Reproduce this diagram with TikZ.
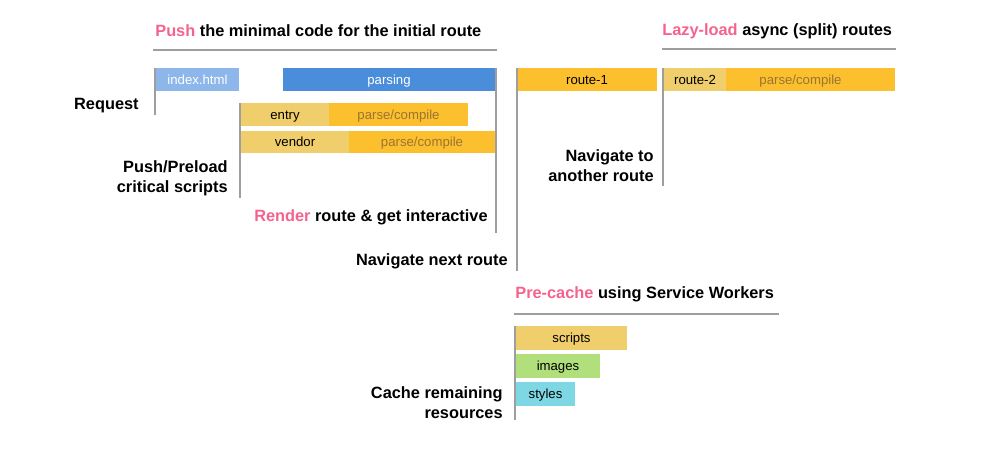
\documentclass[tikz,border=0pt]{standalone}
\usepackage{fontspec}
\setmainfont{Liberation Sans}
\usetikzlibrary{calc}
\definecolor{AccentPink}{HTML}{F4638E}
\definecolor{IndexBlue}{HTML}{8DB6EA}
\definecolor{ParseBlue}{HTML}{4A8DDA}
\definecolor{FetchGold}{HTML}{F0CE6B}
\definecolor{CompileGold}{HTML}{FCC02E}
\definecolor{CompileText}{HTML}{9A7432}
\definecolor{ImageGreen}{HTML}{B0DF7C}
\definecolor{StyleCyan}{HTML}{7DD8E4}
\colorlet{MarkerGray}{black!38}

\tikzset{
  heading/.style={anchor=west, inner sep=0pt, font=\fontsize{9.3}{11.4}\selectfont\bfseries},
  steplabel/.style={anchor=east, align=right, inner sep=0pt, font=\fontsize{9.3}{11.4}\selectfont\bfseries},
  barlabel/.style={anchor=base, inner sep=0pt, font=\fontsize{7.5}{9}\selectfont},
  marker/.style={draw=MarkerGray, line width=1.4pt},
  rule/.style={draw=MarkerGray, line width=1.1pt},
}

\begin{document}
\begin{tikzpicture}[x=0.02cm, y=-0.02cm]

    \useasboundingbox (0,0) rectangle (1000,451);

    \def\barshift{4.7}

    % Push

    \node[heading] (pushHead) at (155,31) {\textcolor{AccentPink}{Push} the minimal code for the initial route};
    \draw[rule] (153,50) -- (497,50);

    \fill[IndexBlue] (156,68) rectangle (239,91);
    \node[barlabel, text=white] (index) at ($(156,68)!0.5!(239,91) + (0,\barshift)$) {index.html};
    \fill[ParseBlue] (283,68) rectangle (495,91);
    \node[barlabel, text=white] (parsing) at ($(283,68)!0.5!(495,91) + (0,\barshift)$) {parsing};

    \fill[FetchGold] (241,103) rectangle (329,126);
    \node[barlabel] (entry) at ($(241,103)!0.5!(329,126) + (0,\barshift)$) {entry};
    \fill[CompileGold] (329,103) rectangle (468,126);
    \node[barlabel, text=CompileText] (entryCompile) at ($(329,103)!0.5!(468,126) + (0,\barshift)$) {parse/compile};

    \fill[FetchGold] (241,131) rectangle (349,153);
    \node[barlabel] (vendor) at ($(241,131)!0.5!(349,153) + (0,\barshift)$) {vendor};
    \fill[CompileGold] (349,131) rectangle (495,153);
    \node[barlabel, text=CompileText] (vendorCompile) at ($(349,131)!0.5!(495,153) + (0,\barshift)$) {parse/compile};

    \node[steplabel] (request) at (139,106) {Request};
    \node[steplabel] (preload) at (228,178) {Push/Preload\\critical scripts};
    \node[steplabel] (render) at (488,217) {\textcolor{AccentPink}{Render} route \& get interactive};
    \node[steplabel] (navNext) at (508,261) {Navigate next route};

    \draw[marker] (155,68) -- (155,115);
    \draw[marker] (240,103) -- (240,198);
    \draw[marker] (496,68) -- (496,233);

    % Lazy-load

    \node[heading] (lazyHead) at (662,31) {\textcolor{AccentPink}{Lazy-load} async (split) routes};
    \draw[rule] (662,49) -- (896,49);

    \fill[CompileGold] (517,68) rectangle (657,91);
    \node[barlabel] (routeOne) at ($(517,68)!0.5!(657,91) + (0,\barshift)$) {route-1};
    \fill[FetchGold] (664,68) rectangle (726,91);
    \node[barlabel] (routeTwo) at ($(664,68)!0.5!(726,91) + (0,\barshift)$) {route-2};
    \fill[CompileGold] (726,68) rectangle (895,91);
    \node[barlabel, text=CompileText] (routeCompile) at ($(726,68)!0.5!(875,91) + (0,\barshift)$) {parse/compile};

    \node[steplabel] (navOther) at (654,165.5) {Navigate to\\another route};

    \draw[marker] (517,68) -- (517,271);
    \draw[marker] (663,68) -- (663,186);

    % Pre-cache

    \node[heading] (cacheHead) at (515,294) {\textcolor{AccentPink}{Pre-cache} using Service Workers};
    \draw[rule] (514,314) -- (779,314);

    \fill[FetchGold] (516,326) rectangle (627,350);
    \node[barlabel] (scripts) at ($(516,326)!0.5!(627,350) + (0,\barshift)$) {scripts};
    \fill[ImageGreen] (516,354) rectangle (600,378);
    \node[barlabel] (images) at ($(516,354)!0.5!(600,378) + (0,\barshift)$) {images};
    \fill[StyleCyan] (516,382) rectangle (575,406);
    \node[barlabel] (styles) at ($(516,382)!0.5!(575,406) + (0,\barshift)$) {styles};

    \node[steplabel] (remaining) at (503,403) {Cache remaining\\resources};

    \draw[marker] (515,326) -- (515,420);

\end{tikzpicture}
\end{document}
